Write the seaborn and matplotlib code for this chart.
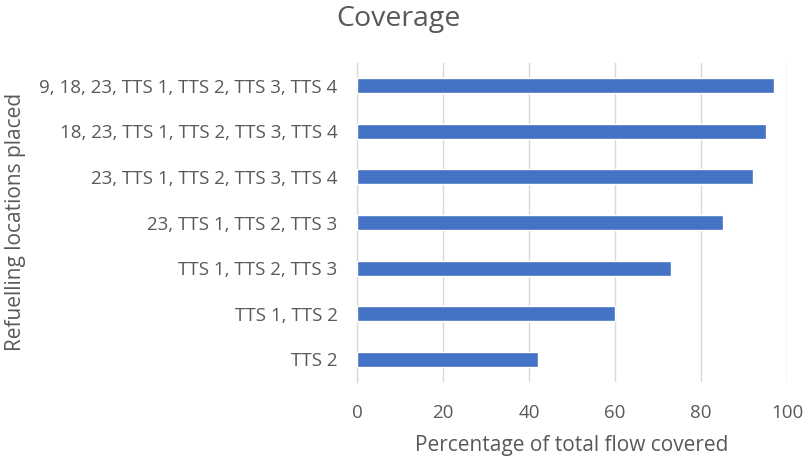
import matplotlib
matplotlib.use("Agg")
import matplotlib.pyplot as plt
import seaborn as sns
import pandas as pd

categories = [
    "9, 18, 23, TTS 1, TTS 2, TTS 3, TTS 4",
    "18, 23, TTS 1, TTS 2, TTS 3, TTS 4",
    "23, TTS 1, TTS 2, TTS 3, TTS 4",
    "23, TTS 1, TTS 2, TTS 3",
    "TTS 1, TTS 2, TTS 3",
    "TTS 1, TTS 2",
    "TTS 2",
]
coverage = [97, 95, 92, 85, 73, 60, 42]
x_ticks = [0, 20, 40, 60, 80, 100]

sns.set_theme(style="white")
plt.rcParams['font.family'] = ['Open Sans', 'DejaVu Sans']

df = pd.DataFrame({"loc": categories, "cov": coverage})

fig = plt.figure(figsize=(8.04, 4.58), dpi=100)
ax = fig.add_axes([357/804, 1-382/458, (787-357)/804, (382-63)/458])

sns.barplot(data=df, y="loc", x="cov", orient="h", color="#4472C4",
            width=0.33, saturation=1, ax=ax, zorder=3)

ax.set_xlim(0, 100)
ax.set_xticks(x_ticks)
ax.set_ylim(6.5, -0.5)
ax.grid(axis="x", color="#d9d9d9", linewidth=1, zorder=0)
ax.set_axisbelow(True)
for s in ["top", "right", "bottom"]:
    ax.spines[s].set_visible(False)
ax.spines["left"].set_color("#d9d9d9")
ax.spines["left"].set_linewidth(1)
ax.tick_params(axis="both", length=0, colors="#595959", labelsize=13.5)
ax.tick_params(axis="y", pad=14)
ax.tick_params(axis="x", pad=16)
ax.set_xlabel("Percentage of total flow covered", fontsize=15, color="#595959")
ax.xaxis.label.set_va("baseline")
ax.xaxis.set_label_coords(0.5, (382-451)/319)
ax.set_ylabel("Refuelling locations placed", fontsize=15, color="#595959")
ax.yaxis.label.set_va("center")
ax.yaxis.set_label_coords((16-357)/430, (382-221.5)/319)
fig.text(398/804, 1-19/458, "Coverage", ha="center", va="center", fontsize=20.5, color="#595959")

fig.savefig("out.png", dpi=100)
